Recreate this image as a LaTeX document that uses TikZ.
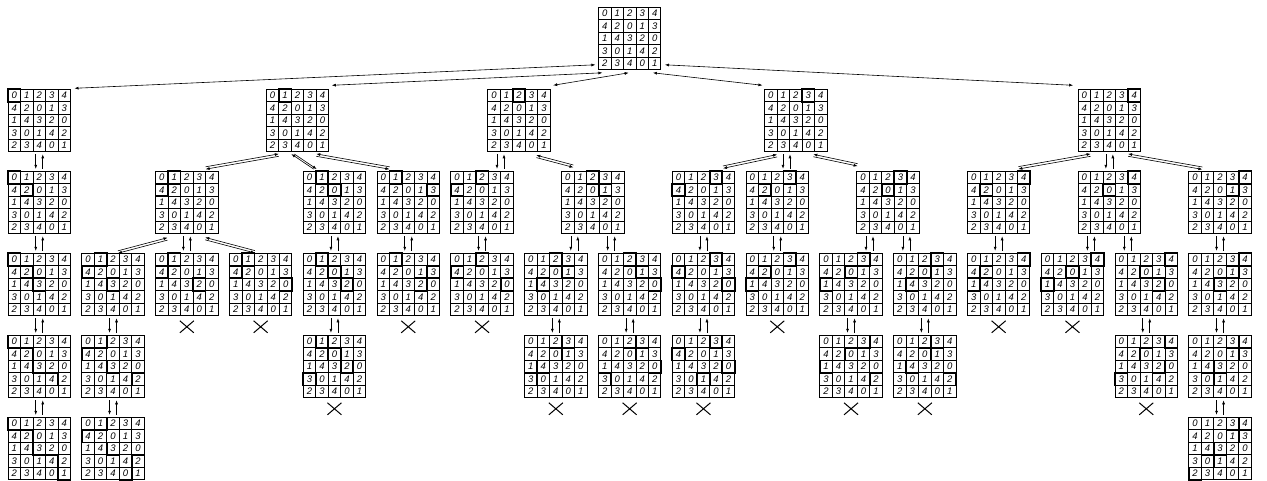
\documentclass[tikz,border=0pt]{standalone}
\usepackage{fontspec}
\setsansfont{Liberation Sans}
\usetikzlibrary{arrows.meta,shapes.misc}

% one 5x5 square, placed by slot (column) and level (row)
\newcommand{\latsq}[3]{%
  \node[sq] (#1) at ({39.25+73.8*#2},{38.55+82*#3}) {};
  \foreach \k in {1,...,4} {
    \draw[rule] ([xshift=\k*12.5pt]#1.north west) -- ([xshift=\k*12.5pt]#1.south west);
    \draw[rule] ([yshift=-\k*12.5pt]#1.north west) -- ([yshift=-\k*12.5pt]#1.north east);
  }
  \foreach \i/\da/\db/\dc/\dd/\de in {0/0/1/2/3/4, 1/4/2/0/1/3, 2/1/4/3/2/0, 3/3/0/1/4/2, 4/2/3/4/0/1}
    \foreach \j/\v in {0/\da, 1/\db, 2/\dc, 3/\dd, 4/\de}
      \node[num] (#1-\i-\j) at ([shift={(\j*12.5+6.25,\i*12.5+6.25)}]#1.north west) {\v};
}
% chosen cells, one column per row from the top
\newcommand{\picks}[2]{%
  \foreach \j [count=\i from 0] in {#2}
    \draw[pick] ([shift={(\j*12.5,\i*12.5)}]#1.north west) rectangle ++(12.5,12.5);
}
\newcommand{\state}[4]{\latsq{#1}{#2}{#3}\picks{#1}{#4}}
\newcommand{\nope}[1]{\node[dead] (#1x) at ([yshift=-11pt]#1.south) {};}
% down/up pair, straight
\newcommand{\vpair}[3]{%
  \draw[arr, shorten <=2.5pt, shorten >=2.5pt] ([xshift=#3-3.5pt]#1.south) -- ([xshift=#3-3.5pt]#1.south |- #2.north);
  \draw[arr, shorten <=2.5pt, shorten >=2.5pt] ([xshift=#3+3.5pt]#1.south |- #2.north) -- ([xshift=#3+3.5pt]#1.south);
}
% down/up pair, slanted
\newcommand{\dpair}[4]{%
  \draw[arr, shorten <=#3, shorten >=#4] ([yshift=-1.2pt]#1.south) -- ([yshift=-1.2pt]#2.north);
  \draw[arr, shorten <=#4, shorten >=#3] ([yshift=1.2pt]#2.north) -- ([yshift=1.2pt]#1.south);
}

\begin{document}
\begin{tikzpicture}[
  x=1pt, y=-1pt,
  sq/.style={draw, line width=0.9pt, minimum size=62.5pt, inner sep=0pt, outer sep=0pt},
  rule/.style={line width=0.7pt},
  num/.style={font=\sffamily\itshape\fontsize{9.5}{9.5}\selectfont, inner sep=0pt},
  pick/.style={line width=1.6pt},
  dead/.style={cross out, draw, line width=1pt, minimum width=13pt, minimum height=11pt, inner sep=0pt},
  arr/.style={-{Latex[length=4pt,width=3pt]}, line width=0.6pt},
  both/.style={{Latex[length=4pt,width=3pt]}-{Latex[length=4pt,width=3pt]}, line width=0.6pt}
]
\useasboundingbox (0,0) rectangle (1267,481);

\latsq{top}{8}{0}

\state{s0}{0}{1}{0}
\state{s1}{3.5}{1}{1}
\state{s2}{6.5}{1}{2}
\state{s3}{10.25}{1}{3}
\state{s4}{14.5}{1}{4}

\state{s01}{0}{2}{0,1}
\state{s10}{2}{2}{1,0}
\state{s12}{4}{2}{1,2}
\state{s14}{5}{2}{1,4}
\state{s20}{6}{2}{2,0}
\state{s23}{7.5}{2}{2,3}
\state{s30}{9}{2}{3,0}
\state{s31}{10}{2}{3,1}
\state{s32}{11.5}{2}{3,2}
\state{s41}{13}{2}{4,1}
\state{s42}{14.5}{2}{4,2}
\state{s43}{16}{2}{4,3}

\state{s012}{0}{3}{0,1,2}
\state{s102}{1}{3}{1,0,2}
\state{s103}{2}{3}{1,0,3}
\state{s104}{3}{3}{1,0,4}
\state{s123}{4}{3}{1,2,3}
\state{s143}{5}{3}{1,4,3}
\state{s204}{6}{3}{2,0,4}
\state{s231}{7}{3}{2,3,1}
\state{s234}{8}{3}{2,3,4}
\state{s304}{9}{3}{3,0,4}
\state{s310}{10}{3}{3,1,0}
\state{s320}{11}{3}{3,2,0}
\state{s321}{12}{3}{3,2,1}
\state{s410}{13}{3}{4,1,0}
\state{s420}{14}{3}{4,2,0}
\state{s423}{15}{3}{4,2,3}
\state{s432}{16}{3}{4,3,2}

\state{s0123}{0}{4}{0,1,2,3}
\state{s1024}{1}{4}{1,0,2,4}
\state{s1230}{4}{4}{1,2,3,0}
\state{s2310}{7}{4}{2,3,1,0}
\state{s2340}{8}{4}{2,3,4,0}
\state{s3042}{9}{4}{3,0,4,2}
\state{s3204}{11}{4}{3,2,0,4}
\state{s3214}{12}{4}{3,2,1,4}
\state{s4230}{15}{4}{4,2,3,0}
\state{s4321}{16}{4}{4,3,2,1}

\state{s01234}{0}{5}{0,1,2,3,4}
\state{s10243}{1}{5}{1,0,2,4,3}
\state{s43210}{16}{5}{4,3,2,1,0}

% dead ends
\nope{s103} \nope{s104} \nope{s143} \nope{s204} \nope{s310} \nope{s410} \nope{s420}
\nope{s1230} \nope{s2310} \nope{s2340} \nope{s3042} \nope{s3204} \nope{s3214} \nope{s4230}

% first row
\draw[both] ([shift={(-3,-5)}]top.south west) -- ([shift={(4,-1)}]s0.north east);
\draw[both] ([shift={(4,3)}]top.south west) -- ([shift={(3,-4)}]s1.north east);
\draw[both] ([shift={(-1,3)}]top.south) -- ([shift={(3,-4)}]s2.north east);
\draw[both] ([shift={(-8,3)}]top.south east) -- ([shift={(-2,-4)}]s3.north west);
\draw[both] ([shift={(4,-5)}]top.south east) -- ([shift={(-5,-4)}]s4.north west);

% second row
\vpair{s0}{s01}{0pt}
\dpair{s1}{s10}{19pt}{19pt}
\draw[arr, shorten <=4pt, shorten >=4pt] ([shift={(-6.5,0)}]s1.south) -- ([shift={(-14.5,0)}]s12.north);
\draw[arr, shorten <=4pt, shorten >=4pt] ([shift={(-17.5,0)}]s12.north) -- ([shift={(-9.5,0)}]s1.south);
\dpair{s1}{s14}{19pt}{19pt}
\vpair{s2}{s20}{-18.45pt}
\dpair{s2}{s23}{18pt}{20pt}
\dpair{s3}{s30}{19pt}{20pt}
\vpair{s3}{s31}{-9.2pt}
\dpair{s3}{s32}{18pt}{31pt}
\dpair{s4}{s41}{19pt}{20pt}
\vpair{s4}{s42}{0pt}
\dpair{s4}{s43}{19pt}{18pt}

% third row
\vpair{s01}{s012}{0pt}
\dpair{s10}{s102}{20pt}{5pt}
\vpair{s10}{s103}{0pt}
\dpair{s10}{s104}{19pt}{6pt}
\vpair{s12}{s123}{0pt}
\vpair{s14}{s143}{0pt}
\vpair{s20}{s204}{0pt}
\vpair{s23}{s231}{-18.45pt}
\vpair{s23}{s234}{18.45pt}
\vpair{s30}{s304}{0pt}
\vpair{s31}{s310}{0pt}
\vpair{s32}{s320}{-18.45pt}
\vpair{s32}{s321}{18.45pt}
\vpair{s41}{s410}{0pt}
\vpair{s42}{s420}{-18.45pt}
\vpair{s42}{s423}{18.45pt}
\vpair{s43}{s432}{0pt}

% lower rows
\vpair{s012}{s0123}{0pt}
\vpair{s102}{s1024}{0pt}
\vpair{s123}{s1230}{0pt}
\vpair{s231}{s2310}{0pt}
\vpair{s234}{s2340}{0pt}
\vpair{s304}{s3042}{0pt}
\vpair{s320}{s3204}{0pt}
\vpair{s321}{s3214}{0pt}
\vpair{s423}{s4230}{0pt}
\vpair{s432}{s4321}{0pt}
\vpair{s0123}{s01234}{0pt}
\vpair{s1024}{s10243}{0pt}
\vpair{s4321}{s43210}{0pt}

\end{tikzpicture}
\end{document}
